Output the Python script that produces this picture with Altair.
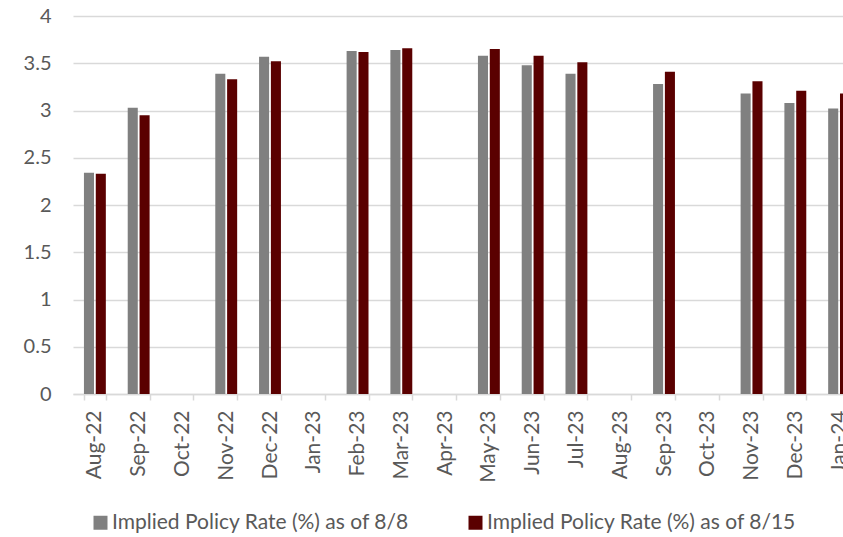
import altair as alt
import pandas as pd

months = ["Aug-22", "Sep-22", "Oct-22", "Nov-22", "Dec-22", "Jan-23", "Feb-23", "Mar-23",
          "Apr-23", "May-23", "Jun-23", "Jul-23", "Aug-23", "Sep-23", "Oct-23", "Nov-23",
          "Dec-23", "Jan-24"]
rate_8_8 = [2.34, 3.03, None, 3.39, 3.57, None, 3.63, 3.64,
            None, 3.58, 3.48, 3.39, None, 3.28, None, 3.18, 3.08, 3.02]
rate_8_15 = [2.33, 2.95, None, 3.33, 3.52, None, 3.62, 3.66,
             None, 3.65, 3.58, 3.51, None, 3.41, None, 3.31, 3.21, 3.18]
series = ["Implied Policy Rate (%) as of 8/8", "Implied Policy Rate (%) as of 8/15"]
colors = ["#808080", "#5a0000"]
y_ticks = [0, 0.5, 1, 1.5, 2, 2.5, 3, 3.5, 4]

rows = []
for m, a, b in zip(months, rate_8_8, rate_8_15):
    if a is not None:
        rows.append({"month": m, "series": series[0], "value": a})
    if b is not None:
        rows.append({"month": m, "series": series[1], "value": b})
df = pd.DataFrame(rows)

FONT = "Lato"
TXT = "#595959"

chart = alt.Chart(df).mark_bar().encode(
    x=alt.X("month:N", sort=months,
            scale=alt.Scale(domain=months, range=[0, 788], paddingInner=0.5, paddingOuter=0.25),
            axis=alt.Axis(title=None, labelAngle=-90, labelFontSize=21, labelColor=TXT,
                          labelFont=FONT, domainColor="#d9d9d9", domainWidth=1.5,
                          tickColor="#d9d9d9", tickWidth=1.5, tickSize=6, tickBand="extent",
                          labelPadding=10, grid=False)),
    xOffset=alt.XOffset("series:N", sort=series,
                        scale=alt.Scale(domain=series, paddingInner=0.15, paddingOuter=0)),
    y=alt.Y("value:Q", scale=alt.Scale(domain=[0, 4], nice=False),
            axis=alt.Axis(title=None, values=y_ticks, format="~g", labelFontSize=20,
                          labelColor=TXT, labelFont=FONT, ticks=False, domain=False,
                          labelPadding=22, gridColor="#d9d9d9", gridWidth=1.5)),
    color=alt.Color("series:N", sort=series,
                    scale=alt.Scale(domain=series, range=colors),
                    legend=alt.Legend(title=None, orient="none", direction="horizontal",
                                      legendX=17, legendY=496, symbolType="square",
                                      symbolSize=196, symbolStrokeWidth=0,
                                      labelFontSize=21, labelColor=TXT, labelFont=FONT,
                                      labelOffset=1, columnPadding=55, padding=0,
                                      labelLimit=400)),
).properties(
    width=770, height=378,
    autosize=alt.AutoSizeParams(type="none"),
    padding={"left": 73, "top": 16, "right": 0, "bottom": 143},
).configure_view(stroke=None)

chart.save("out.html", embed_options={"renderer": "svg", "actions": False})
